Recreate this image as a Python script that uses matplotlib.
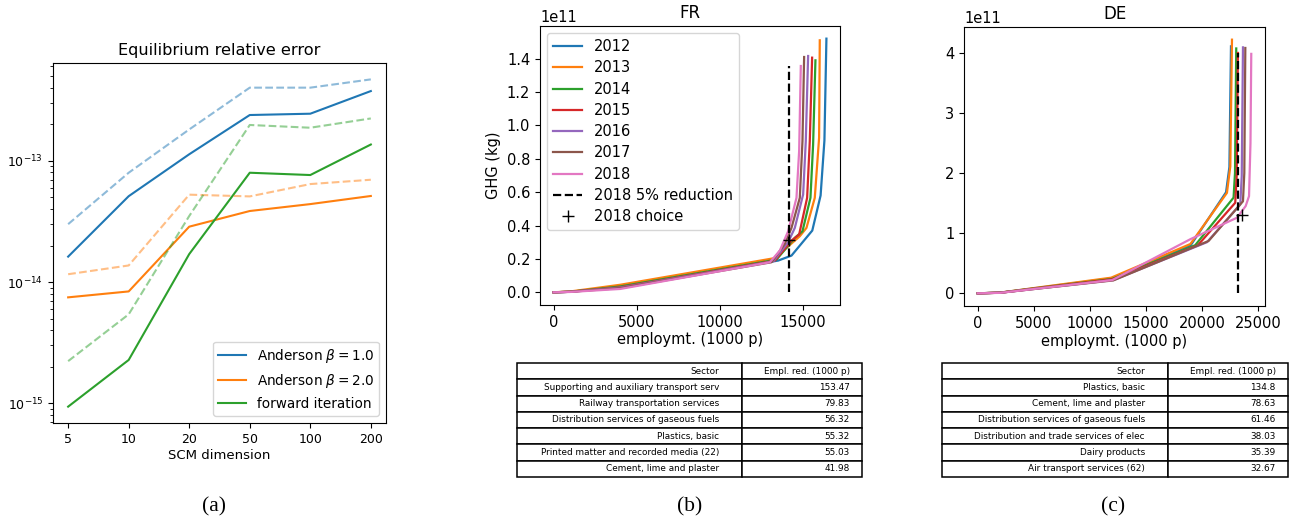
import matplotlib
matplotlib.use("Agg")
import matplotlib.pyplot as plt
from matplotlib.ticker import NullFormatter, FixedLocator
import numpy as np

# ---------------- Data: panel (a) ----------------
scm_dims = ["5", "10", "20", "50", "100", "200"]
anderson_b1 = [1.62e-14, 5.1e-14, 1.13e-13, 2.38e-13, 2.44e-13, 3.75e-13]
anderson_b1_dash = [3.0e-14, 7.96e-14, 1.81e-13, 4.0e-13, 4.0e-13, 4.68e-13]
anderson_b2 = [7.48e-15, 8.37e-15, 2.86e-14, 3.85e-14, 4.39e-14, 5.12e-14]
anderson_b2_dash = [1.16e-14, 1.37e-14, 5.25e-14, 5.08e-14, 6.42e-14, 6.97e-14]
forward = [9.4e-16, 2.28e-15, 1.70e-14, 7.96e-14, 7.62e-14, 1.36e-13]
forward_dash = [2.23e-15, 5.42e-15, 3.5e-14, 1.97e-13, 1.87e-13, 2.23e-13]

# ---------------- Data: panel (b) FR (employment in 1000 p, GHG in 1e11 kg) ----------------
years = ["2012", "2013", "2014", "2015", "2016", "2017", "2018"]
fr_emp = {
    "2012": [0, 1000, 4000, 13500, 14300, 15550, 16050, 16280, 16400],
    "2013": [0, 1000, 4000, 13300, 14800, 15200, 15700, 15960, 16000],
    "2014": [0, 1000, 4000, 13400, 14500, 14960, 15440, 15600, 15740],
    "2015": [0, 1000, 4000, 13300, 14300, 14760, 15240, 15400, 15540],
    "2016": [0, 1000, 4000, 13200, 14100, 14500, 15000, 15160, 15300],
    "2017": [0, 1000, 4000, 13100, 13900, 14300, 14800, 14960, 15060],
    "2018": [0, 1000, 4000, 13000, 13600, 14100, 14600, 14760, 14860],
}
fr_ghg = {
    "2012": [0, 0.003, 0.035, 0.19, 0.22, 0.37, 0.58, 0.91, 1.52],
    "2013": [0, 0.005, 0.045, 0.205, 0.336, 0.386, 0.566, 0.926, 1.51],
    "2014": [0, 0.003, 0.035, 0.196, 0.326, 0.366, 0.566, 0.886, 1.39],
    "2015": [0, 0.003, 0.03, 0.19, 0.31, 0.346, 0.566, 0.906, 1.406],
    "2016": [0, 0.003, 0.028, 0.185, 0.30, 0.386, 0.586, 0.906, 1.416],
    "2017": [0, 0.003, 0.025, 0.18, 0.29, 0.386, 0.566, 0.906, 1.41],
    "2018": [0, 0.002, 0.02, 0.18, 0.25, 0.366, 0.566, 0.846, 1.356],
}
fr_reduction_emp = 14140
fr_reduction_top = 1.356
fr_choice = (14140, 0.312)

# ---------------- Data: panel (c) DE ----------------
de_emp = {
    "2012": [0, 2000, 12000, 19000, 22150, 22450, 22590],
    "2013": [0, 2000, 11900, 18970, 22230, 22530, 22680],
    "2014": [0, 2000, 12000, 19400, 22820, 22950, 23060],
    "2015": [0, 2000, 12050, 19640, 22970, 23100, 23210],
    "2016": [0, 2000, 12100, 20450, 23420, 23550, 23660],
    "2017": [0, 2000, 12100, 20590, 23660, 23780, 23870],
    "2018": [0, 2000, 12000, 18970, 23120, 23900, 24200, 24330, 24400],
}
de_ghg = {
    "2012": [0, 0.012, 0.25, 0.80, 1.68, 2.1, 4.105],
    "2013": [0, 0.012, 0.26, 0.82, 1.67, 2.11, 4.216],
    "2014": [0, 0.01, 0.24, 0.80, 1.59, 2.0, 4.07],
    "2015": [0, 0.01, 0.235, 0.80, 1.505, 1.95, 3.995],
    "2016": [0, 0.01, 0.22, 0.85, 1.477, 1.95, 4.088],
    "2017": [0, 0.01, 0.215, 0.87, 1.53, 2.0, 4.078],
    "2018": [0, 0.008, 0.22, 0.90, 1.256, 1.45, 1.615, 2.5, 3.98],
}
de_reduction_emp = 23180
de_reduction_top = 3.99
de_choice = (23570, 1.31)

# ---------------- Data: tables ----------------
table_cols = ["Sector", "Empl. red. (1000 p)"]
fr_sectors = ["Supporting and auxiliary transport serv",
              "Railway transportation services",
              "Distribution services of gaseous fuels",
              "Plastics, basic",
              "Printed matter and recorded media (22)",
              "Cement, lime and plaster"]
fr_values = ["153.47", "79.83", "56.32", "55.32", "55.03", "41.98"]
de_sectors = ["Plastics, basic",
              "Cement, lime and plaster",
              "Distribution services of gaseous fuels",
              "Distribution and trade services of elec",
              "Dairy products",
              "Air transport services (62)"]
de_values = ["134.8", "78.63", "61.46", "38.03", "35.39", "32.67"]

colors = ["#1f77b4", "#ff7f0e", "#2ca02c", "#d62728", "#9467bd", "#8c564b", "#e377c2"]

fig = plt.figure(figsize=(12.93, 5.17), dpi=100)

# ---------------- Panel (a) ----------------
ax_a = fig.add_axes([0.0410, 0.1818, 0.2575, 0.6963])
xi = np.arange(len(scm_dims))
ax_a.plot(xi, anderson_b1, color=colors[0], lw=1.5, label=r"Anderson $\beta = 1.0$")
ax_a.plot(xi, anderson_b2, color=colors[1], lw=1.5, label=r"Anderson $\beta = 2.0$")
ax_a.plot(xi, forward, color=colors[2], lw=1.5, label="forward iteration")
ax_a.plot(xi, anderson_b1_dash, color=colors[0], lw=1.5, ls="--", alpha=0.5)
ax_a.plot(xi, anderson_b2_dash, color=colors[1], lw=1.5, ls="--", alpha=0.5)
ax_a.plot(xi, forward_dash, color=colors[2], lw=1.5, ls="--", alpha=0.5)
ax_a.set_yscale("log")
ylo, yhi = ax_a.get_ylim()
major = [10.0 ** e for e in range(-16, -11) if ylo <= 10.0 ** e <= yhi]
minor = [m * 10.0 ** e for e in range(-16, -11) for m in range(2, 10)
         if ylo <= m * 10.0 ** e <= yhi]
ax_a.yaxis.set_major_locator(FixedLocator(major))
ax_a.yaxis.set_minor_locator(FixedLocator(minor))
ax_a.yaxis.set_minor_formatter(NullFormatter())
ax_a.set_ylim(ylo, yhi)
ax_a.set_xticks(xi)
ax_a.set_xticklabels(scm_dims)
ax_a.tick_params(labelsize=9)
ax_a.set_xlabel("SCM dimension", fontsize=9.5, labelpad=2)
ax_a.set_title("Equilibrium relative error", fontsize=11.6)
ax_a.legend(loc="lower right", fontsize=9.8)

# ---------------- Panel (b) FR ----------------
ax_fr = fig.add_axes([0.4176, 0.4101, 0.2321, 0.5397])
for c, y in zip(colors, years):
    ax_fr.plot(fr_emp[y], np.array(fr_ghg[y]) * 1e11, color=c, lw=1.6, label=y)
ax_fr.plot([fr_reduction_emp, fr_reduction_emp], [0, fr_reduction_top * 1e11],
           color="black", ls="--", lw=1.6, label="2018 5% reduction")
ax_fr.plot([fr_choice[0]], [fr_choice[1] * 1e11], marker="+", color="black",
           ls="none", markersize=8, label="2018 choice")
ax_fr.set_title("FR", fontsize=12)
ax_fr.set_xlabel("employmt. (1000 p)", fontsize=10.5, labelpad=2)
ax_fr.set_ylabel("GHG (kg)", fontsize=10.5)
ax_fr.tick_params(labelsize=10.5)
ax_fr.yaxis.get_offset_text().set_fontsize(10.5)
ax_fr.legend(loc="upper left", fontsize=10.5, handlelength=2.0,
             borderpad=0.4, labelspacing=0.43)

# ---------------- Panel (c) DE ----------------
ax_de = fig.add_axes([0.7456, 0.4081, 0.2327, 0.5397])
for c, y in zip(colors, years):
    ax_de.plot(de_emp[y], np.array(de_ghg[y]) * 1e11, color=c, lw=1.6, label=y)
ax_de.plot([de_reduction_emp, de_reduction_emp], [0, de_reduction_top * 1e11],
           color="black", ls="--", lw=1.6)
ax_de.plot([de_choice[0]], [de_choice[1] * 1e11], marker="+", color="black",
           ls="none", markersize=8)
ax_de.set_title("DE", fontsize=12)
ax_de.set_xlabel("employmt. (1000 p)", fontsize=10.5, labelpad=2)
ax_de.tick_params(labelsize=10.5)
ax_de.yaxis.get_offset_text().set_fontsize(10.5)


def draw_table(rect, sectors, values):
    axt = fig.add_axes(rect)
    axt.axis("off")
    rows = [[s, v] for s, v in zip(sectors, values)]
    tb = axt.table(cellText=rows, colLabels=table_cols, colWidths=[0.652, 0.348],
                   bbox=[0, 0, 1, 1], cellLoc="right", colLoc="right")
    tb.auto_set_font_size(False)
    tb.set_fontsize(6.4)
    for cell in tb.get_celld().values():
        cell.set_linewidth(1.1)
    return tb


draw_table([0.3998, 0.0774, 0.2668, 0.2205], fr_sectors, fr_values)
draw_table([0.7285, 0.0774, 0.2676, 0.2205], de_sectors, de_values)

# ---------------- Captions ----------------
for x, lab in [(0.1655, "(a)"), (0.5336, "(b)"), (0.8608, "(c)")]:
    fig.text(x, 0.0103, lab, ha="center", va="baseline",
             family="Liberation Serif", fontsize=15.5)

fig.savefig("out.png", dpi=100)
